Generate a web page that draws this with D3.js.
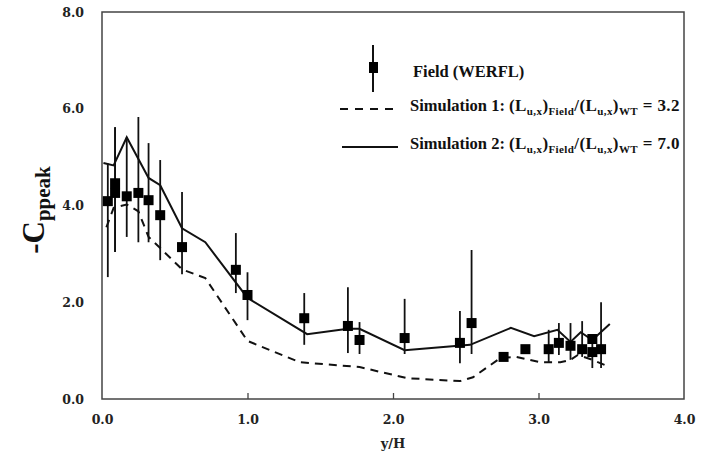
<!DOCTYPE html>
<html><head><meta charset="utf-8">
<script src="https://cdn.jsdelivr.net/npm/d3@7"></script>
<style>body{margin:0;background:#fff}svg{display:block}</style>
</head><body>
<svg id="c" width="705" height="457"></svg>
<script>
// ---- data ----
const xTicks = [0, 1, 2, 3, 4];
const yTicks = [0, 2, 4, 6, 8];
const fieldX  = [0.04,0.09,0.09,0.17,0.25,0.32,0.40,0.55,0.92,1.00,1.39,1.69,1.77,2.08,2.46,2.54,2.76,2.91,3.07,3.14,3.22,3.30,3.37,3.37,3.43];
const fieldY  = [4.09,4.26,4.46,4.19,4.26,4.11,3.80,3.14,2.67,2.15,1.67,1.51,1.22,1.26,1.16,1.57,0.87,1.03,1.03,1.16,1.10,1.03,1.24,0.97,1.03];
const fieldLo = [2.52,3.04,3.04,3.35,3.24,3.24,2.87,2.58,2.19,1.63,1.12,0.95,0.93,0.93,0.74,0.93,null,null,0.76,0.91,0.81,0.87,null,0.64,0.64];
const fieldHi = [4.87,5.62,5.62,5.41,5.83,5.29,4.94,4.28,3.43,2.62,2.19,2.31,1.59,2.07,1.82,3.08,null,null,1.43,1.57,1.57,1.61,null,1.28,2.00];
const sim1X = [0.03,0.08,0.17,0.25,0.32,0.40,0.55,0.71,1.00,1.36,1.77,2.10,2.46,2.55,2.74,2.85,3.01,3.15,3.22,3.27,3.37,3.49];
const sim1Y = [3.55,3.95,4.02,3.88,3.35,3.12,2.68,2.50,1.20,0.76,0.66,0.43,0.37,0.45,0.85,0.87,0.76,0.76,0.81,0.91,0.81,0.66];
const sim2X = [0.01,0.08,0.17,0.32,0.40,0.55,0.71,1.00,1.41,1.69,1.77,2.08,2.53,2.81,2.97,3.13,3.22,3.29,3.37,3.49];
const sim2Y = [4.88,4.83,5.41,4.57,4.42,3.53,3.24,2.09,1.34,1.45,1.45,1.01,1.12,1.47,1.30,1.43,1.18,1.38,1.22,1.55];

const svg = d3.select('#c');
const L = 102, R = 684, T = 12, B = 399;
const x = d3.scaleLinear().domain([0, 4]).range([L, R]);
const y = d3.scaleLinear().domain([0, 8]).range([B, T]);
const ink = '#111';
const tickFont = '"DejaVu Serif", "Liberation Serif", serif';

// frame
svg.append('rect').attr('x', L).attr('y', T).attr('width', R - L).attr('height', B - T)
  .attr('fill', 'none').attr('stroke', '#444').attr('stroke-width', 1.5);

// axes (ticks inward)
const xAxis = d3.axisBottom(x).tickValues(xTicks).tickFormat(d3.format('.1f')).tickSizeInner(-6).tickSizeOuter(0).tickPadding(16);
const gx = svg.append('g').attr('transform', `translate(0,${B})`).call(xAxis);
const yAxis = d3.axisLeft(y).tickValues(yTicks).tickFormat(d3.format('.1f')).tickSizeInner(0).tickSizeOuter(0).tickPadding(18);
const gy = svg.append('g').attr('transform', `translate(${L},0)`).call(yAxis);
[gx, gy].forEach(g => {
  g.select('.domain').remove();
  g.selectAll('line').attr('stroke', '#444').attr('stroke-width', 1.3);
  g.selectAll('text').attr('font-family', tickFont).attr('font-size', 12.5).attr('font-weight', 'bold').attr('fill', '#222');
});
gx.selectAll('.tick').filter(d => d === 0 || d === 4).select('line').remove();

// axis titles
svg.append('text').attr('x', x(2)).attr('y', 448).attr('text-anchor', 'middle')
  .attr('font-family', tickFont).attr('font-size', 13).attr('font-weight', 'bold').attr('fill', '#222').text('y/H');
const yt = svg.append('text').attr('transform', 'translate(44,210) rotate(-90)').attr('text-anchor', 'middle')
  .attr('font-family', '"Liberation Serif", serif').attr('font-weight', 'bold').attr('fill', '#111');
yt.append('tspan').attr('font-size', 31).text('-C');
yt.append('tspan').attr('font-size', 21).attr('dy', 6).text('ppeak');

// simulation lines
const line = d3.line().x(d => x(d[0])).y(d => y(d[1]));
svg.append('path').datum(d3.zip(sim1X, sim1Y)).attr('d', line).attr('fill', 'none')
  .attr('stroke', ink).attr('stroke-width', 2).attr('stroke-dasharray', '8,6');
svg.append('path').datum(d3.zip(sim2X, sim2Y)).attr('d', line).attr('fill', 'none')
  .attr('stroke', ink).attr('stroke-width', 2);

// field data
const field = fieldX.map((v, i) => ({x: v, y: fieldY[i], lo: fieldLo[i], hi: fieldHi[i]}));
svg.append('g').selectAll('line').data(field.filter(d => d.lo !== null)).join('line')
  .attr('x1', d => x(d.x)).attr('x2', d => x(d.x)).attr('y1', d => y(d.lo)).attr('y2', d => y(d.hi))
  .attr('stroke', ink).attr('stroke-width', 1.8);
const S = 10;
svg.append('g').selectAll('rect').data(field).join('rect')
  .attr('x', d => x(d.x) - S / 2).attr('y', d => y(d.y) - S / 2).attr('width', S).attr('height', S).attr('fill', '#000');

// legend
const lf = '"Liberation Serif", serif';
svg.append('line').attr('x1', 373).attr('x2', 373).attr('y1', 45).attr('y2', 92).attr('stroke', ink).attr('stroke-width', 2);
svg.append('rect').attr('x', 369).attr('y', 62).attr('width', 9).attr('height', 11).attr('fill', '#000');
svg.append('text').attr('x', 413).attr('y', 77).attr('font-family', lf).attr('font-weight', 'bold').attr('font-size', 16.5).attr('fill', '#111').text('Field (WERFL)');
svg.append('line').attr('x1', 340).attr('x2', 394).attr('y1', 109).attr('y2', 109).attr('stroke', ink).attr('stroke-width', 2).attr('stroke-dasharray', '8,7');
svg.append('line').attr('x1', 342).attr('x2', 398).attr('y1', 147).attr('y2', 147).attr('stroke', ink).attr('stroke-width', 2);

function legendText(yy, label, val) {
  const t = svg.append('text').attr('x', 410).attr('y', yy).attr('font-family', lf).attr('font-weight', 'bold').attr('font-size', 16.5).attr('fill', '#111');
  t.append('tspan').text(label + ' ');
  const parts = [['(L', 0, 17], ['u,x', 4, 11], [')', -4, 17], ['Field', 4, 11], ['/(L', -4, 17], ['u,x', 4, 11], [')', -4, 17], ['WT', 4, 11], [' = ' + val, -4, 17]];
  parts.forEach(p => t.append('tspan').attr('dy', p[1]).attr('font-size', p[2]).attr('letter-spacing', 0.4).text(p[0]));
}
legendText(111, 'Simulation 1:', '3.2');
legendText(149, 'Simulation 2:', '7.0');
</script>
</body></html>
